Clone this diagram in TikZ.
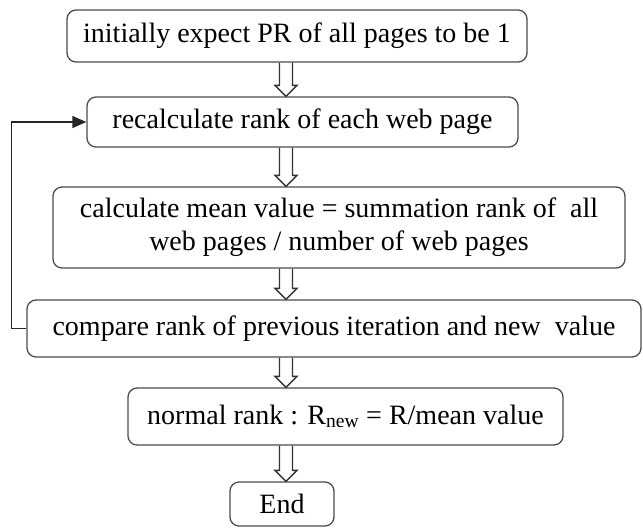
\documentclass[tikz,border=0pt]{standalone}
\usepackage{fontspec}
\setmainfont{Liberation Serif}
\usetikzlibrary{arrows.meta,calc}
\tikzset{
  stepbox/.style={draw=black!70, line width=1.3pt, rounded corners=9pt, fill=white,
    inner sep=0pt, align=center, font=\fontsize{28}{33}\selectfont},
  hollow/.style={draw=black!80, line width=1.3pt, to path={let \p1=(\tikztostart), \p2=(\tikztotarget) in
    (\x1-6.5pt,\y1) -- (\x1-6.5pt,\y2+11pt) -- (\x1-11pt,\y2+11pt) -- (\x1,\y2)
    -- (\x1+11pt,\y2+11pt) -- (\x1+6.5pt,\y2+11pt) -- (\x1+6.5pt,\y1)}}
}
\begin{document}
\begin{tikzpicture}[x=1pt,y=-1pt]
\useasboundingbox (0,0) rectangle (643,528);
\node[stepbox, minimum width=460pt, minimum height=52pt] (init) at (297,36) {initially expect PR of all pages to be 1};
\node[stepbox, minimum width=431pt, minimum height=50pt] (recalc) at (302.5,122) {recalculate rank of each web page};
\node[stepbox, minimum width=572pt, minimum height=81pt] (mean) at (339,227.5) {calculate mean value = summation rank of \ all\\web pages / number of web pages};
\node[stepbox, minimum width=614pt, minimum height=57pt] (cmp) at (334,328.5) {compare rank of previous iteration and new \ value};
\node[stepbox, minimum width=435pt, minimum height=57pt] (norm) at (345.5,416.5) {normal rank : R\textsubscript{new} = R/mean value};
\node[stepbox, minimum width=104pt, minimum height=44pt] (fin) at (282,504) {End};
\coordinate (ax) at (286,0);
% hollow arrows between steps
\draw[hollow] (init.south -| ax) to (recalc.north -| ax);
\draw[hollow] (recalc.south -| ax) to (mean.north -| ax);
\draw[hollow] (mean.south -| ax) to (cmp.north -| ax);
\draw[hollow] (cmp.south -| ax) to (norm.north -| ax);
\draw[hollow] (norm.south -| ax) to (fin.north -| ax);
% loop back
\draw[black!85, line width=1.3pt, -{Triangle[length=14pt,width=12pt]}] (cmp.west) -- ++(-15,0) |- (recalc.west);
\end{tikzpicture}
\end{document}
